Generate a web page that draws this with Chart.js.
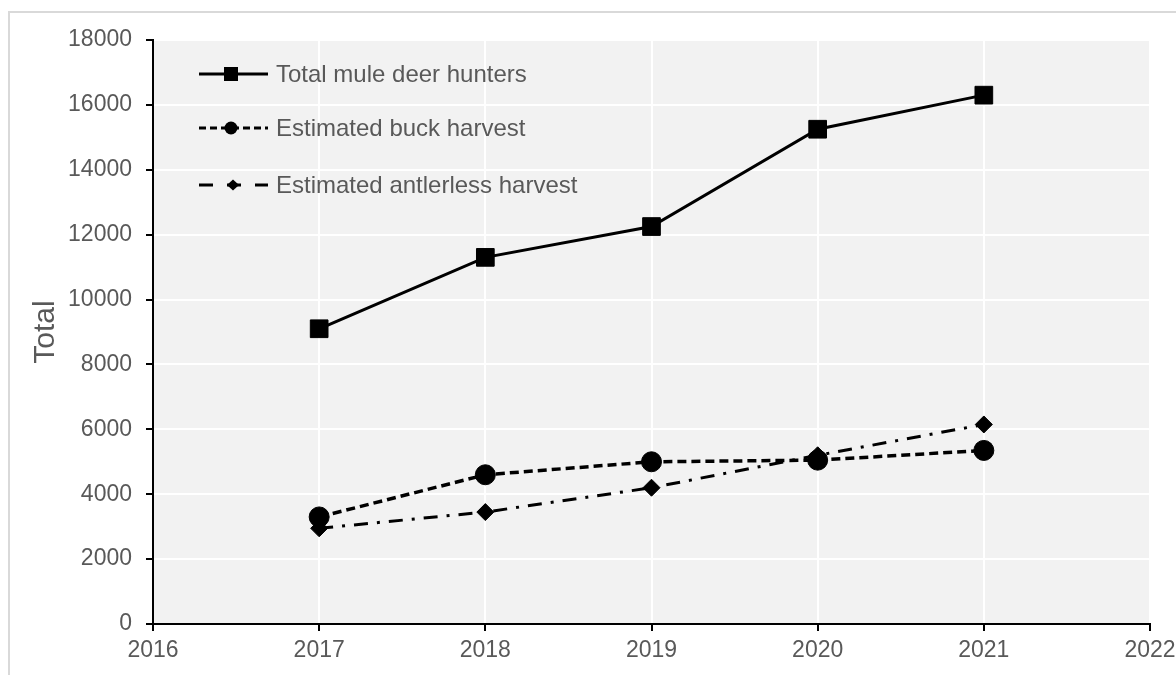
<!DOCTYPE html>
<html>
<head>
<meta charset="utf-8">
<script src="https://cdn.jsdelivr.net/npm/chart.js@4"></script>
<style>
  html, body { margin: 0; padding: 0; background: #fff; }
  #wrap { position: relative; width: 1176px; height: 675px; }
</style>
</head>
<body>
<div id="wrap"><canvas id="grafico" width="1176" height="675"></canvas></div>
<script>
const anos = [2017, 2018, 2019, 2020, 2021];
const totalCacadores = [9100, 11300, 12250, 15250, 16300];
const abateMachos = [3300, 4600, 5000, 5050, 5350];
const abateSemGalhada = [2950, 3450, 4200, 5200, 6150];
const ticksX = [2016, 2017, 2018, 2019, 2020, 2021, 2022];
const ticksY = [0, 2000, 4000, 6000, 8000, 10000, 12000, 14000, 16000, 18000];

const rotulos = ["Total mule deer hunters", "Estimated buck harvest", "Estimated antlerless harvest"];

const fonte = "'Liberation Sans', Arial, sans-serif";
const pontos = valores => anos.map((a, i) => ({ x: a, y: valores[i] }));

// fundo cinza da área do gráfico + moldura externa
const fundo = {
  id: "fundo",
  beforeDraw(chart) {
    const { ctx, chartArea: a } = chart;
    ctx.save();
    ctx.strokeStyle = "#d9d9d9";
    ctx.lineWidth = 2;
    ctx.beginPath();
    ctx.moveTo(9, 675);
    ctx.lineTo(9, 12);
    ctx.lineTo(1176, 12);
    ctx.stroke();
    ctx.fillStyle = "#f2f2f2";
    ctx.fillRect(a.left, a.top, a.right - a.left, a.bottom - a.top);
    ctx.restore();
  }
};

// legenda desenhada dentro da área do gráfico
const legenda = {
  id: "legenda",
  afterDatasetsDraw(chart) {
    const { ctx } = chart;
    const linhas = [74, 128, 185];
    const tracos = [[], [7, 4], [14, 14, 14]];
    ctx.save();
    chart.data.datasets.forEach((ds, i) => {
      const y = linhas[i];
      ctx.strokeStyle = "#000";
      ctx.lineWidth = 3;
      ctx.setLineDash(tracos[i]);
      ctx.beginPath();
      ctx.moveTo(199, y);
      ctx.lineTo(268, y);
      ctx.stroke();
      ctx.setLineDash([]);
      ctx.fillStyle = "#000";
      const mx = i === 2 ? 233 : 231;
      if (i === 0) {
        ctx.fillRect(mx - 7, y - 7, 14, 14);
      } else if (i === 1) {
        ctx.beginPath();
        ctx.arc(mx, y, 6.5, 0, Math.PI * 2);
        ctx.fill();
      } else {
        ctx.beginPath();
        ctx.moveTo(mx, y - 5.5);
        ctx.lineTo(mx + 6, y);
        ctx.lineTo(mx, y + 5.5);
        ctx.lineTo(mx - 6, y);
        ctx.closePath();
        ctx.fill();
      }
      ctx.fillStyle = "#595959";
      ctx.font = "24px " + fonte;
      ctx.textBaseline = "middle";
      ctx.fillText(ds.label, 276, y + 1);
    });
    ctx.restore();
  }
};

new Chart(document.getElementById("grafico"), {
  type: "line",
  data: {
    datasets: [
      {
        label: rotulos[0],
        data: pontos(totalCacadores),
        borderColor: "#000",
        backgroundColor: "#000",
        borderWidth: 3,
        pointStyle: "rect",
        pointRadius: 12.5,
        pointBorderWidth: 1
      },
      {
        label: rotulos[1],
        data: pontos(abateMachos),
        borderColor: "#000",
        backgroundColor: "#000",
        borderWidth: 3.5,
        borderDash: [9, 5],
        pointStyle: "circle",
        pointRadius: 10,
        pointBorderWidth: 1
      },
      {
        label: rotulos[2],
        data: pontos(abateSemGalhada),
        borderColor: "#000",
        backgroundColor: "#000",
        borderWidth: 3,
        borderDash: [14, 9, 3, 9],
        pointStyle: "rectRot",
        pointRadius: 8.5,
        pointBorderWidth: 1
      }
    ]
  },
  options: {
    responsive: false,
    animation: false,
    layout: { padding: { left: 0, right: 0, top: 40, bottom: 0 } },
    plugins: { legend: { display: false }, tooltip: { enabled: false } },
    scales: {
      x: {
        type: "linear",
        min: 2016,
        max: 2022,
        afterBuildTicks: s => { s.ticks = ticksX.map(v => ({ value: v })); },
        afterFit: s => { s.height = 51; s.paddingRight = 26; },
        border: { color: "#000", width: 2 },
        grid: { color: "#fff", lineWidth: 2, tickColor: "#000", tickLength: 7, tickWidth: 2 },
        ticks: {
          color: "#595959",
          font: { family: fonte, size: 23 },
          padding: 6,
          callback: v => String(v)
        }
      },
      y: {
        min: 0,
        max: 18000,
        afterBuildTicks: s => { s.ticks = ticksY.map(v => ({ value: v })); },
        afterFit: s => { s.width = 153; },
        border: { color: "#000", width: 2 },
        grid: { color: "#fff", lineWidth: 2, tickColor: "#000", tickLength: 7, tickWidth: 2 },
        title: {
          display: true,
          text: "Total",
          color: "#595959",
          font: { family: fonte, size: 30 },
          padding: { top: 28, bottom: 4 }
        },
        ticks: {
          color: "#595959",
          font: { family: fonte, size: 23 },
          padding: 14,
          callback: v => String(v)
        }
      }
    }
  },
  plugins: [fundo, legenda]
});
</script>
</body>
</html>
